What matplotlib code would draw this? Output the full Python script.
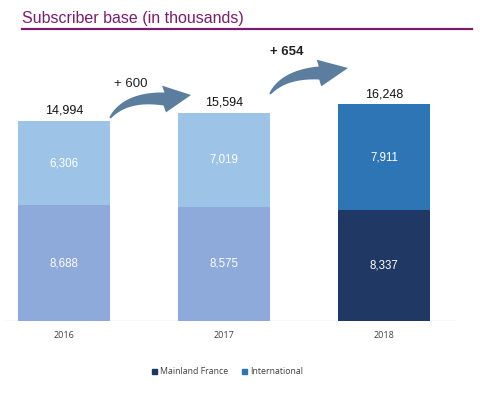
import matplotlib
matplotlib.use("Agg")
import numpy as np
import matplotlib.pyplot as plt
from matplotlib.patches import Rectangle, Polygon

years = ["2016", "2017", "2018"]
mainland = [8688, 8575, 8337]
international = [6306, 7019, 7911]
totals = [14994, 15594, 16248]
growth_labels = ["+ 600", "+ 654"]

mainland_colors = ["#8eaadb", "#8eaadb", "#1f3864"]
intl_colors = ["#9dc3e6", "#9dc3e6", "#2e75b6"]

W, H = 481, 394
fig = plt.figure(figsize=(W / 100, H / 100), dpi=100)
fig.patch.set_facecolor("white")

base_px = 321
top_px = 40
scale = 200 / 14994  # px per thousand
ax = fig.add_axes([0, 1 - base_px / H, 1, (base_px - top_px) / H])
ax.set_xlim(-0.4, (W - 64) / 160)
ax.set_ylim(0, (base_px - top_px) / scale)
ax.axis("off")

x = list(range(len(years)))
width = 0.575
ax.bar(x, mainland, width, color=mainland_colors, zorder=2)
ax.bar(x, international, width, bottom=mainland, color=intl_colors, zorder=2)
ax.axhline(0, xmin=0.01, xmax=0.945, color="#d9d9d9", lw=1, zorder=1)

for i in x:
    ax.text(i, mainland[i] / 2, f"{mainland[i]:,}", ha="center", va="center",
            color="white", fontsize=8.3, family="Liberation Sans")
    ax.text(i, mainland[i] + international[i] / 2, f"{international[i]:,}",
            ha="center", va="center", color="white", fontsize=8.3, family="Liberation Sans")
    ax.text(i, totals[i] + 300, f"{totals[i]:,}", ha="center", va="bottom",
            color="#111111", fontsize=9, family="Liberation Sans")
    ax.text(i, -1050, years[i], ha="center", va="center", color="#404040",
            fontsize=6.5, family="Open Sans")

def px2d(px, py):
    return ((px - 64) / 160, (base_px - py) / scale)

def curved_arrow(S, C, B, T, shaft_hw=6.5, head_hw=13.5):
    S, C, B, T = map(np.array, (S, C, B, T))
    t = np.linspace(0, 1, 40)
    P = ((1 - t) ** 2)[:, None] * S + (2 * (1 - t) * t)[:, None] * C + (t ** 2)[:, None] * B
    D = (2 * (1 - t))[:, None] * (C - S) + (2 * t)[:, None] * (B - C)
    D /= np.linalg.norm(D, axis=1)[:, None]
    N = np.stack([D[:, 1], -D[:, 0]], axis=1)
    hw = (0.8 + (shaft_hw - 0.8) * t ** 0.8)[:, None]
    upper = P + N * hw
    lower = P - N * hw
    d = (T - B) / np.linalg.norm(T - B)
    n = np.array([d[1], -d[0]])
    head = [B + n * head_hw, T, B - n * head_hw]
    pts = np.vstack([upper, head, lower[::-1]])
    data = np.array([px2d(px, py) for px, py in pts])
    ax.add_patch(Polygon(data, closed=True, color="#5b7d9e", lw=0, zorder=3))

curved_arrow((110, 118), (126, 96), (164, 99), (191, 95))
curved_arrow((270, 94), (284, 74), (319, 73), (348, 68))

label_pos = [(131, 84), (287, 52)]
for (tx, ty), lab in zip(label_pos, growth_labels):
    ax.text(*px2d(tx, ty), lab, ha="center", va="center", fontsize=9.5,
            fontweight="bold" if lab == growth_labels[1] else "normal",
            color="#222222", family="Liberation Sans")

# Title and rule
fig.text(22 / W, 1 - 18 / H, "Subscriber base (in thousands)", ha="left", va="center",
         fontsize=11.5, color="#7b1c6e", family="Liberation Sans")
fig.add_artist(plt.Line2D([22 / W, 472 / W], [1 - 28.5 / H] * 2, color="#7b1c6e", lw=1.6))

# Legend
for lx, col, lab in [(152, "#1f3864", "Mainland France"), (242, "#2e75b6", "International")]:
    fig.add_artist(Rectangle((lx / W, 1 - 374 / H), 5 / W, 5 / H, color=col,
                             transform=fig.transFigure))
    fig.text((lx + 8) / W, 1 - 371 / H, lab, ha="left", va="center", fontsize=6.3,
             color="#404040", family="Open Sans")

fig.savefig("out.png", dpi=100, facecolor="white")
